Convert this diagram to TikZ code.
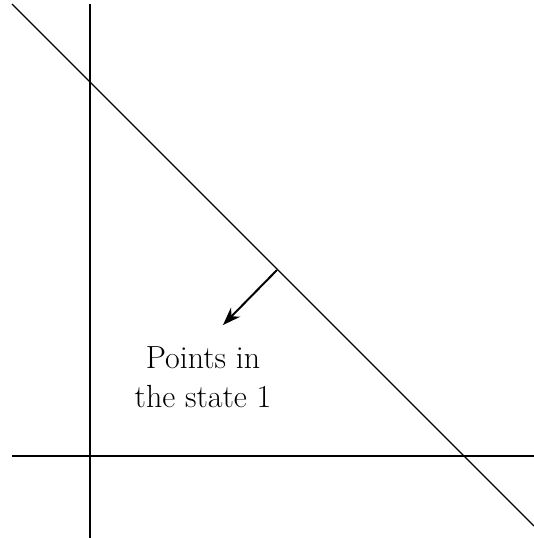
\documentclass[tikz,border=0pt]{standalone}
\usetikzlibrary{arrows.meta}
\begin{document}
\begin{tikzpicture}[x=1pt,y=-1pt,
  axis/.style={line width=1.6pt},
  bound/.style={line width=1.1pt},
  normal/.style={line width=2pt,-{Stealth[length=18pt,width=13pt]}},
  lbl/.style={align=center,font=\fontsize{32}{39}\selectfont,inner sep=0pt}]
\useasboundingbox (0,0) rectangle (534,538);
\coordinate (vt) at (90,4);
\coordinate (vb) at (90,538);
\coordinate (hl) at (12,456);
\coordinate (hr) at (534,456);
\coordinate (d1) at (12,4);
\coordinate (d2) at (534,526);
\coordinate (a1) at (277,270);
\coordinate (a2) at (223,325);
\draw[axis] (vt) -- (vb);
\draw[axis] (hl) -- (hr);
\draw[bound] (d1) -- (d2);
\draw[normal] (a1) -- (a2);
\node[lbl] (txt) at (203,377) {Points in\\the state 1};
\end{tikzpicture}
\end{document}
